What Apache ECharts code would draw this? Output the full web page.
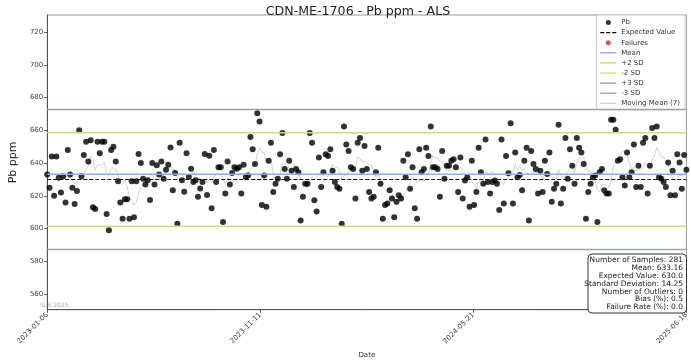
<!DOCTYPE html>
<html><head><meta charset="utf-8">
<script src="https://cdn.jsdelivr.net/npm/echarts@6/dist/echarts.min.js"></script>
<style>html,body{margin:0;padding:0;background:#fff}#c{width:691px;height:364px}</style>
</head><body><div id="c"></div>
<script>
const chartTitle = 'CDN-ME-1706 - Pb ppm - ALS';
const tickLabels = ['2023-01-06', '2023-11-11', '2024-05-21', '2025-06-18'];
const tickPositions = [0, 280 / 3, 560 / 3, 280];
const yTicks = [560, 580, 600, 620, 640, 660, 680, 700, 720];
const expectedValue = 630.0;
const meanValue = 633.16;
const sdValue = 14.25;
const pbValues = [
  633,625,644,620,644,631,622,632,616,648,
  633,625,615,623,660,632,645,653,641,654,
  613,612,653,646,653,653,609,599,648,650,
  641,629,616,606,618,618,606,629,
  607,629,645.5,640,630.5,627,629.6,617.5,640,627,
  638.7,633,641,630.5,636,639,649.5,623.5,634,603,
  652.5,629.6,622.5,646,631.5,636.5,628.5,629.5,619.5,624.5,
  628.5,645.5,620.5,644.5,612.5,648,628.5,637.5,637.5,604,
  621.5,641,627,634,637.5,636.5,637.5,621.5,639,631.5,
  632.5,656,
  648.4,639.4,670.4,665.4,614.4,632.4,613.4,641.4,652.4,622.4,
  627.4,630.4,645.4,658.4,636.4,630.4,641.4,635.4,625.4,636.4,
  634.4,605,619.4,627.4,627.4,658.4,652.4,617.4,610.4,643.4,
  625.4,634.4,645.4,644.4,648.4,635.4,628.4,625.4,624.4,603,
  662.4,651.4,647.4,637.4,636.4,618.4,652.4,655.4,635.4,650.4,
  636.4,622.4,618.4,619.4,634.4,649.4,627.4,606,614.4,615.4,
  623.4,618.4,607,616.4,620.4,618.4,641.4,631.4,645.4,624.4,
  637.4,612.4,606,648.4,634.4,636.4,649.4,644.4,662.4,637.4,
  637.4,636.4,619.4,647.4,630.4,638.4,638.4,641.4,642.4,637.4,
  622.4,643.4,618.4,629.4,631.4,613.4,
  641.4,614.4,622.4,649.4,634.4,627.4,654.4,628.4,621.4,628.4,
  629.4,627.4,611.4,654.4,615.4,644.4,633.8,664.4,615.4,646.4,
  631.4,632.8,623.4,641.4,649.4,605,647.4,639.4,636.4,621.4,
  635.4,622.4,641.4,633.4,646.4,616.4,624.4,627.4,663.4,615.4,
  624.4,655.4,630.4,648.4,638.4,627.4,655.4,649.4,646.4,639.4,
  606,622.4,627.4,631.4,632.4,604,634.4,636.4,623.4,621.4,
  621.4,666.4,666.4,660.4,641.4,642.4,631.4,626.4,646.4,631.4,
  634.4,651.4,625.4,638.4,625.4,652.4,655.4,621.4,638.4,661.4,
  655.4,662.4,631.4,630.4,628.4,625.4,640.4,620.4,635.4,620.4,
  645.4,640.4,624.4,645,636
];
const failureValues = [];
const statsLines = [
  'Number of Samples: 281',
  'Mean: 633.16',
  'Expected Value: 630.0',
  'Standard Deviation: 14.25',
  'Number of Outliers: 0',
  'Bias (%): 0.5',
  'Failure Rate (%): 0.0'
];

const xMax = pbValues.length - 1;
const pbData = pbValues.map((v, i) => [i, v]);
const mm = [];
for (let i = 6; i < pbValues.length; i++) {
  let s = 0;
  for (let k = i - 6; k <= i; k++) s += pbValues[k];
  mm.push([i, s / 7]);
}
function hline(name, v, color, type, width) {
  return {
    name, type: 'line', data: [[0, v], [xMax, v]], symbol: 'none', z: 4,
    lineStyle: { color, width, type }, itemStyle: { color }, silent: true, animation: false
  };
}
const SOLID = 'path://M0,0H16V1.4H0Z';
const DASH = 'path://M0,0H4V1.4H0ZM6,0H10V1.4H6ZM12,0H16V1.4H12Z';
const FONT = 'DejaVu Sans';
const chart = echarts.init(document.getElementById('c'));
chart.setOption({
  animation: false,
  title: {
    text: chartTitle, left: 353, textAlign: 'center', top: 0,
    textStyle: { fontSize: 12.6, fontWeight: 'normal', color: '#222', fontFamily: FONT }
  },
  grid: { left: 33, right: 4, top: 15, bottom: 49, show: true, borderColor: '#999', borderWidth: 1 },
  xAxis: {
    type: 'value', min: 0, max: xMax,
    name: 'Date', nameLocation: 'middle', nameGap: 40,
    nameTextStyle: { fontSize: 7, color: '#333', fontFamily: FONT },
    axisLine: { show: true, lineStyle: { color: '#555', width: 1 } },
    axisTick: { show: true, customValues: tickPositions, length: 3, lineStyle: { color: '#555' } },
    axisLabel: {
      customValues: tickPositions, rotate: 45, fontSize: 7, color: '#444', margin: 4, fontFamily: FONT,
      formatter: (v) => {
        let best = 0;
        tickPositions.forEach((p, i) => { if (Math.abs(p - v) < Math.abs(tickPositions[best] - v)) best = i; });
        return tickLabels[best];
      }
    },
    splitLine: { show: false }
  },
  yAxis: {
    type: 'value', min: 550.5, max: 730.4,
    name: 'Pb ppm', nameLocation: 'middle', nameGap: 25,
    nameTextStyle: { fontSize: 11, color: '#222', fontFamily: FONT },
    axisLine: { show: true, lineStyle: { color: '#555', width: 1 } },
    axisTick: { show: true, customValues: yTicks, length: 3, lineStyle: { color: '#555' } },
    axisLabel: { customValues: yTicks, fontSize: 7, color: '#444', margin: 4, fontFamily: FONT },
    splitLine: { show: false }
  },
  legend: {
    orient: 'vertical', right: 6, top: 15, itemWidth: 16, itemHeight: 5, itemGap: 3.1,
    textStyle: { fontSize: 7, color: '#333', fontFamily: FONT },
    backgroundColor: '#fff', borderColor: '#ccc', borderWidth: 1, borderRadius: 3,
    padding: [4, 5, 3, 4],
    data: [
      { name: 'Pb', icon: 'circle' },
      { name: 'Expected Value', icon: DASH },
      { name: 'Failures', icon: 'circle' },
      { name: 'Mean', icon: SOLID }, { name: '+2 SD', icon: SOLID }, { name: '-2 SD', icon: SOLID },
      { name: '+3 SD', icon: SOLID }, { name: '-3 SD', icon: SOLID }, { name: 'Moving Mean (7)', icon: SOLID }
    ]
  },
  series: [
    { name: 'Pb', type: 'scatter', data: pbData, symbolSize: 6, itemStyle: { color: '#000' }, z: 3 },
    hline('Expected Value', expectedValue, '#000', [4, 2], 1.2),
    { name: 'Failures', type: 'scatter', data: failureValues, symbolSize: 6, itemStyle: { color: '#d62728' } },
    hline('Mean', meanValue, '#8cafe6', 'solid', 1.5),
    hline('+2 SD', expectedValue + 2 * sdValue, '#c9e16a', 'solid', 1.5),
    hline('-2 SD', expectedValue - 2 * sdValue, '#d0e478', 'solid', 1.5),
    hline('+3 SD', expectedValue + 3 * sdValue, '#93a99c', 'solid', 1.5),
    hline('-3 SD', expectedValue - 3 * sdValue, '#9aa79f', 'solid', 1.5),
    { name: 'Moving Mean (7)', type: 'line', data: mm, symbol: 'none', z: 2,
      lineStyle: { color: '#d2d2d2', width: 1 }, itemStyle: { color: '#d2d2d2' } }
  ],
  graphic: [
    { type: 'text', left: 40, top: 302, style: { text: 'SLR 2025', fontSize: 6, fill: '#aaa', fontFamily: FONT } },
    { type: 'rect', shape: { x: 588, y: 254, width: 98.5, height: 59, r: 4 },
      style: { fill: '#fff', stroke: '#333', lineWidth: 1 }, z: 10 },
    { type: 'text', z: 11, style: {
      text: statsLines.join('\n'), x: 683, y: 256, align: 'right', fontSize: 7.5, lineHeight: 7.9,
      fill: '#222', fontFamily: FONT } }
  ]
});
</script></body></html>
